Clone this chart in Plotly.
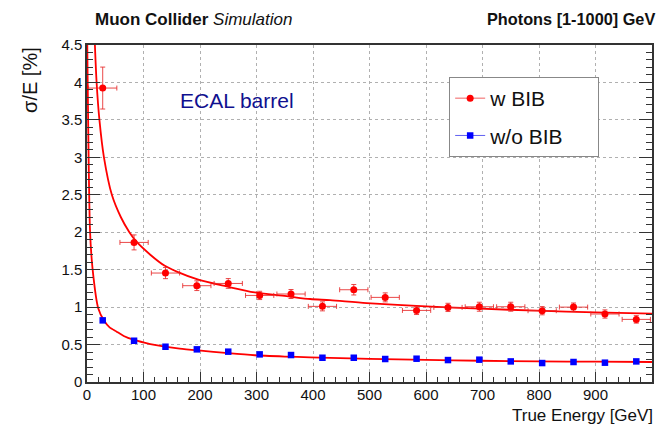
import plotly.graph_objects as go

# ---------------- data ----------------
energy = [27.8, 83.3, 138.9, 194.4, 250.0, 305.6, 361.1, 416.7, 472.2,
          527.8, 583.3, 638.9, 694.4, 750.0, 805.6, 861.1, 916.7, 972.2]
energy_err = [25] * 18

res_bib = [3.925, 1.864, 1.455, 1.286, 1.316, 1.156, 1.175, 1.01, 1.232,
           1.13, 0.956, 0.996, 1.005, 1.005, 0.952, 1.0, 0.908, 0.836]
res_bib_err = [0.28, 0.1, 0.075, 0.065, 0.065, 0.055, 0.06, 0.06, 0.07,
               0.06, 0.055, 0.055, 0.06, 0.06, 0.055, 0.055, 0.055, 0.05]

res_nobib = [0.823, 0.551, 0.471, 0.436, 0.405, 0.369, 0.36, 0.324, 0.324,
             0.307, 0.311, 0.293, 0.298, 0.275, 0.253, 0.267, 0.258, 0.275]
res_nobib_err = [0.02, 0.01, 0.01, 0.01, 0.01, 0.01, 0.01, 0.01, 0.01,
                 0.01, 0.01, 0.01, 0.01, 0.01, 0.01, 0.01, 0.01, 0.01]

# fit curves
fit_bib_x = [14, 17, 22, 30, 44, 60, 75, 88, 112, 137, 160, 197, 247, 297,
             356, 395, 430, 495, 600, 696, 796, 900, 1000]
fit_bib_y = [4.5, 4.0, 3.5, 3.0, 2.5, 2.2, 2.0, 1.87, 1.70, 1.555, 1.47, 1.366,
             1.276, 1.196, 1.143, 1.108, 1.092, 1.054, 1.01, 0.979, 0.952, 0.93, 0.912]

fit_nobib_x = [0.5, 5.3, 10, 20, 30, 40, 52, 65, 82, 112, 130, 164, 197, 250,
               297, 350, 395, 430, 500, 600, 696, 800, 900, 1000]
fit_nobib_y = [4.5, 2.03, 1.5, 0.98, 0.82, 0.73, 0.675, 0.615, 0.565, 0.507,
               0.483, 0.447, 0.422, 0.385, 0.357, 0.34, 0.329, 0.322, 0.31,
               0.295, 0.284, 0.276, 0.271, 0.267]

x_ticks = [0, 100, 200, 300, 400, 500, 600, 700, 800, 900, 1000]
y_ticks = [0, 0.5, 1, 1.5, 2, 2.5, 3, 3.5, 4, 4.5]

# ---------------- styles ----------------
FONT = "Liberation Sans, Arial, Helvetica, sans-serif"
RED = "#ff0000"
BLUE = "#0000ff"
ERR_RED = "rgba(230,40,40,0.85)"
PAD = "\u00a0" * 5

fig = go.Figure()

fig.add_trace(go.Scatter(x=fit_bib_x, y=fit_bib_y, mode="lines",
                         line=dict(color=RED, width=1.8, shape="spline", smoothing=0.8),
                         showlegend=False, hoverinfo="skip"))
fig.add_trace(go.Scatter(x=fit_nobib_x, y=fit_nobib_y, mode="lines",
                         line=dict(color=RED, width=1.8, shape="spline", smoothing=0.6),
                         showlegend=False, hoverinfo="skip"))

fig.add_trace(go.Scatter(
    x=energy, y=res_bib, mode="markers",
    marker=dict(color=RED, size=7, symbol="circle"),
    error_x=dict(type="data", array=energy_err, color=ERR_RED, thickness=1, width=2.5),
    error_y=dict(type="data", array=res_bib_err, color=ERR_RED, thickness=1, width=2.5),
    showlegend=False))

fig.add_trace(go.Scatter(
    x=energy, y=res_nobib, mode="markers",
    marker=dict(color=BLUE, size=6.5, symbol="square"),
    error_y=dict(type="data", array=res_nobib_err, color=BLUE, thickness=1, width=2),
    showlegend=False))

# legend entries
fig.add_trace(go.Scatter(x=[None], y=[None], mode="lines+markers", name="w BIB" + PAD,
                         legendgroup="a",
                         line=dict(color="rgba(240,80,80,0.9)", width=1),
                         marker=dict(color=RED, size=7, symbol="circle")))
fig.add_trace(go.Scatter(x=[None], y=[None], mode="lines+markers", name="w/o BIB" + PAD,
                         legendgroup="b",
                         line=dict(color="rgba(80,80,240,0.9)", width=1),
                         marker=dict(color=BLUE, size=6.5, symbol="square")))

axis_common = dict(
    showgrid=True, gridcolor="#b0b0b0", griddash="dot", gridwidth=1,
    zeroline=False, showline=True, linecolor="#333333", linewidth=1.5,
    ticks="inside", tickcolor="#333333",
    tickfont=dict(family=FONT, size=15, color="#111111"),
)

fig.update_xaxes(range=[0, 1000], tickvals=x_ticks, ticklen=10, tickwidth=1.2,
                 ticklabelstandoff=-2,
                 minor=dict(dtick=20, ticklen=5, ticks="inside", tickcolor="#333333",
                            showgrid=False),
                 mirror=True, **axis_common)
fig.update_yaxes(range=[0, 4.5], tickvals=y_ticks, ticklen=13, tickwidth=1.2,
                 minor=dict(dtick=0.1, ticklen=6.5, ticks="inside", tickcolor="#333333",
                            showgrid=False),
                 mirror="ticks", **axis_common)

fig.update_layout(
    width=668, height=427,
    margin=dict(l=87, r=16, t=45, b=45),
    paper_bgcolor="white", plot_bgcolor="white",
    font=dict(family=FONT, color="#111111"),
    legend=dict(x=0.641, y=0.905, xanchor="left", yanchor="top",
                bordercolor="#888888", borderwidth=1, bgcolor="white",
                font=dict(family=FONT, size=21, color="#111111"),
                tracegroupgap=7, itemwidth=30),
    annotations=[
        dict(text="<b>Muon Collider</b> <i>Simulation</i>", xref="paper", yref="paper",
             x=0.0106, y=1.077, xanchor="left", yanchor="middle", showarrow=False,
             font=dict(family=FONT, size=17, color="#111111")),
        dict(text="<b>Photons [1-1000] GeV</b>", xref="paper", yref="paper",
             x=1.009, y=1.077, xanchor="right", yanchor="middle", showarrow=False,
             font=dict(family=FONT, size=16.3, color="#111111")),
        dict(text="σ/E [%]", xref="paper", yref="paper", x=-0.101, y=1.0,
             xanchor="center", yanchor="top", textangle=-90, showarrow=False,
             font=dict(family=FONT, size=20, color="#111111")),
        dict(text="True Energy [GeV]", xref="paper", yref="paper", x=1.005, y=-0.1,
             xanchor="right", yanchor="middle", showarrow=False,
             font=dict(family=FONT, size=17, color="#111111")),
        dict(text="ECAL barrel", xref="paper", yref="paper", x=0.161, y=0.834,
             xanchor="left", yanchor="middle", showarrow=False,
             font=dict(family=FONT, size=21, color="#10108f")),
    ],
)

fig.write_html("out.html")
